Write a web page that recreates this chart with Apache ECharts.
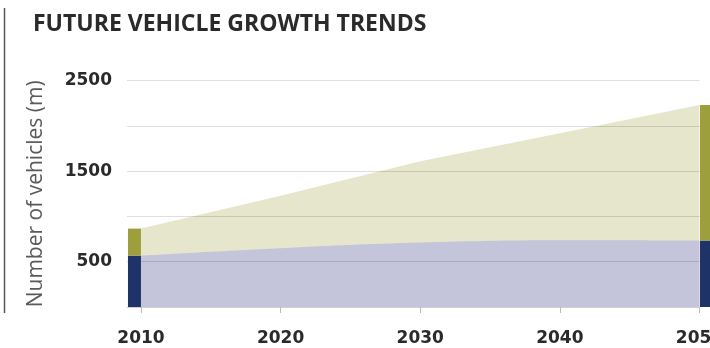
<!DOCTYPE html>
<html>
<head>
<meta charset="utf-8">
<script src="https://cdn.jsdelivr.net/npm/echarts@6/dist/echarts.min.js"></script>
<style>
  html, body { margin: 0; padding: 0; background: #fff; }
  #chart { width: 710px; height: 348px; }
</style>
</head>
<body>
<div id="chart"></div>
<script>
const years = [2010, 2020, 2030, 2040, 2050];
// vehicles already on the road (lower band) and total fleet (upper edge), millions
const existing = [568, 650, 712, 738, 735];
const total = [866, 1230, 1610, 1920, 2232];
const yLabels = [500, 1500, 2500];

const chart = echarts.init(document.getElementById('chart'));

// end bars: 2010 sits left of its tick, 2050 right of its tick
const barData = [
  [years[0], existing[0], total[0], -1],
  [years[4], existing[4], total[4], 1],
];

function renderEndBar(params, api) {
  const year = api.value(0);
  const side = api.value(3);
  const p0 = api.coord([year, 0]);
  const p1 = api.coord([year, api.value(1)]);
  const p2 = api.coord([year, api.value(2)]);
  const w = 13;
  const x = side < 0 ? p0[0] - w : p0[0] + 0.5;
  return {
    type: 'group',
    children: [
      {type: 'rect', shape: {x: x, y: p1[1], width: w, height: p0[1] - p1[1]}, style: {fill: '#1e3468'}},
      {type: 'rect', shape: {x: x, y: p2[1], width: w, height: p1[1] - p2[1]}, style: {fill: '#9d9f3c'}},
    ],
  };
}

chart.setOption({
  animation: false,
  title: {
    text: 'FUTURE VEHICLE GROWTH TRENDS',
    left: 28,
    top: 8,
    textStyle: {
      fontFamily: 'Open Sans',
      fontWeight: 'bold',
      fontSize: 23,
      color: '#2a2a2a',
    },
  },
  graphic: [
    {
      type: 'line',
      shape: {x1: 4.5, y1: 8, x2: 4.5, y2: 313},
      style: {stroke: '#555', lineWidth: 1.5},
    },
  ],
  grid: {
    left: 127,
    right: 10.5,
    top: 80.7,
    bottom: 41,
    outerBoundsMode: 'none',
  },
  xAxis: {
    type: 'value',
    min: 2009,
    max: 2050,
    z: 2,
    axisLine: {show: true, lineStyle: {color: '#cfcfcf'}},
    axisTick: {show: true, customValues: years, length: 6, lineStyle: {color: '#bdbdbd'}},
    axisLabel: {
      customValues: years,
      margin: 23,
      fontFamily: 'DejaVu Sans',
      fontWeight: 'bold',
      fontSize: 17,
      color: '#2a2a2a',
      formatter: v => String(v),
    },
    splitLine: {show: false},
  },
  yAxis: {
    type: 'value',
    min: 0,
    max: 2500,
    interval: 500,
    z: 2,
    name: 'Number of vehicles (m)',
    nameLocation: 'middle',
    nameRotate: 90,
    nameGap: 80,
    nameTextStyle: {
      fontFamily: 'Open Sans',
      fontSize: 21,
      color: '#5a5a5a',
    },
    axisLine: {show: false},
    axisTick: {show: false},
    axisLabel: {
      margin: 15,
      fontFamily: 'DejaVu Sans',
      fontWeight: 'bold',
      fontSize: 17,
      color: '#2a2a2a',
      formatter: v => (yLabels.indexOf(v) >= 0 ? String(v) : ''),
    },
    splitLine: {
      show: true,
      lineStyle: {color: 'rgba(0,0,0,0.13)', width: 1},
    },
  },
  series: [
    {
      type: 'line',
      z: 1,
      data: years.map((y, i) => [y, total[i]]),
      showSymbol: false,
      lineStyle: {width: 0},
      areaStyle: {color: '#e6e6cd', opacity: 1},
    },
    {
      type: 'line',
      z: 1,
      smooth: 0.4,
      data: years.map((y, i) => [y, existing[i]]),
      showSymbol: false,
      lineStyle: {width: 0},
      areaStyle: {color: '#c4c4da', opacity: 1},
    },
    {
      type: 'custom',
      z: 3,
      clip: false,
      renderItem: renderEndBar,
      data: barData,
    },
  ],
});
</script>
</body>
</html>
